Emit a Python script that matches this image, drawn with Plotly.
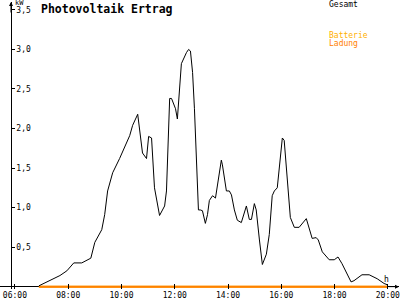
import plotly.graph_objects as go

# --- data -------------------------------------------------------------
gesamt_hours = [6.90, 7.31, 7.69, 7.95, 8.21, 8.51, 8.85, 9.00, 9.26, 9.37, 9.48, 9.67,
                9.93, 10.31, 10.42, 10.61, 10.68, 10.79, 10.94, 11.02, 11.13, 11.24, 11.43,
                11.62, 11.69, 11.81, 11.88, 12.03, 12.10, 12.18, 12.25, 12.44, 12.52, 12.59,
                12.67, 12.74, 12.89, 12.96, 13.04, 13.15, 13.23, 13.30, 13.42, 13.53, 13.60,
                13.75, 13.79, 13.94, 14.05, 14.13, 14.24, 14.35, 14.50, 14.69, 14.80, 14.88,
                14.99, 15.06, 15.18, 15.29, 15.44, 15.55, 15.66, 15.74, 15.85, 15.93, 16.04,
                16.11, 16.19, 16.34, 16.49, 16.67, 16.94, 17.05, 17.16, 17.31, 17.39, 17.54,
                17.80, 17.99, 18.13, 18.28, 18.62, 18.73, 19.03, 19.30, 19.60, 19.86, 19.97]
gesamt_kw = [0.01, 0.075, 0.14, 0.20, 0.30, 0.30, 0.36, 0.56, 0.72, 0.91, 1.21, 1.44,
             1.62, 1.91, 2.04, 2.18, 2.00, 1.69, 1.62, 1.90, 1.88, 1.25, 0.90,
             1.02, 1.21, 2.38, 2.38, 2.25, 2.12, 2.50, 2.82, 2.96, 3.00, 2.98,
             2.71, 2.25, 0.97, 0.97, 0.96, 0.80, 0.91, 1.09, 1.15, 1.12, 1.29,
             1.60, 1.54, 1.21, 1.21, 1.16, 0.97, 0.84, 0.81, 1.02, 0.85, 0.85,
             1.05, 0.97, 0.59, 0.28, 0.41, 0.66, 1.15, 1.21, 1.25, 1.50, 1.88,
             1.85, 1.52, 0.875, 0.75, 0.75, 0.86, 0.72, 0.61, 0.62, 0.59, 0.44,
             0.34, 0.34, 0.375, 0.29, 0.06, 0.075, 0.15, 0.15, 0.10, 0.04, 0.025]

charge_hours = [6.90, 19.97]
batterie_kw = [0, 0]
ladung_kw = [0, 0]

y_tickvals = [0.5, 1.0, 1.5, 2.0, 2.5, 3.0, 3.5]
y_ticktext = ["0,5", "1,0", "1,5", "2,0", "2,5", "3,0", "3,5"]
x_tickvals = [6, 8, 10, 12, 14, 16, 18, 20]
x_ticktext = ["06:00", "08:00", "10:00", "12:00", "14:00", "16:00", "18:00", "20:00"]

# --- figure -----------------------------------------------------------
MONO = "DejaVu Sans Mono"
W = 400.0
fig = go.Figure()
fig.add_trace(go.Scatter(x=charge_hours, y=batterie_kw, mode="lines",
                         line=dict(color="#FFB000", width=2), name="Batterie"))
fig.add_trace(go.Scatter(x=charge_hours, y=ladung_kw, mode="lines",
                         line=dict(color="#FF8000", width=2), name="Ladung"))
fig.add_trace(go.Scatter(x=gesamt_hours, y=gesamt_kw, mode="lines",
                         line=dict(color="black", width=1), name="Gesamt"))

fig.update_layout(
    width=400, height=300,
    margin=dict(l=0, r=0, t=2, b=8),
    paper_bgcolor="white", plot_bgcolor="white",
    showlegend=False,
    font=dict(family=MONO, size=8, color="black"),
    xaxis=dict(range=[5.44, 20.42], showgrid=False, zeroline=False, showline=False,
               ticks="inside", ticklen=5, tickcolor="black",
               tickvals=x_tickvals, ticktext=x_ticktext, ticklabelstandoff=0,
               ticklabeloverflow="allow",
               tickfont=dict(family=MONO, size=8, color="black")),
    yaxis=dict(range=[-0.03, 3.6], showgrid=False,
               zeroline=True, zerolinecolor="black", zerolinewidth=1,
               anchor="free", position=11 / W,
               showline=True, linecolor="black", linewidth=1,
               ticks="inside", ticklen=3, tickcolor="black",
               ticklabelposition="inside", ticklabeloverflow="allow",
               tickvals=y_tickvals, ticktext=y_ticktext,
               tickfont=dict(family=MONO, size=8, color="black")),
)

annos = [
    dict(text="<b>Photovoltaik Ertrag</b>", x=40 / W, y=(290 - 9) / 80,
         xanchor="left", yanchor="middle", font=dict(family=MONO, size=11.5, color="black")),
    dict(text="kW", x=14 / W, y=(290 - 3) / 80, xanchor="left", yanchor="middle",
         font=dict(family=MONO, size=7, color="black")),
    dict(text="h", x=384 / W, y=(290 - 283) / 80, xanchor="left", yanchor="middle",
         font=dict(family=MONO, size=8, color="black")),
    dict(text="Gesamt", x=329 / W, y=(290 - 5) / 80, xanchor="left", yanchor="middle",
         font=dict(family=MONO, size=8, color="black")),
    dict(text="Batterie", x=329 / W, y=(290 - 36) / 80, xanchor="left", yanchor="middle",
         font=dict(family=MONO, size=8, color="#FFB000")),
    dict(text="Ladung", x=329 / W, y=(290 - 44) / 80, xanchor="left", yanchor="middle",
         font=dict(family=MONO, size=8, color="#FF8000")),
]
for a in annos:
    a.update(xref="paper", yref="y", showarrow=False, borderpad=0)
    fig.add_annotation(**a)

# axis arrows
fig.add_annotation(x=11 / W, y=1.0, xref="paper", yref="paper", ax=0, ay=12, text="",
                   showarrow=True, arrowhead=2, arrowsize=0.8, arrowwidth=1, arrowcolor="black")
fig.add_annotation(x=1.0, y=0, xref="paper", yref="y", ax=-12, ay=0, text="",
                   showarrow=True, arrowhead=2, arrowsize=0.8, arrowwidth=1, arrowcolor="black")

fig.write_html("out.html")
